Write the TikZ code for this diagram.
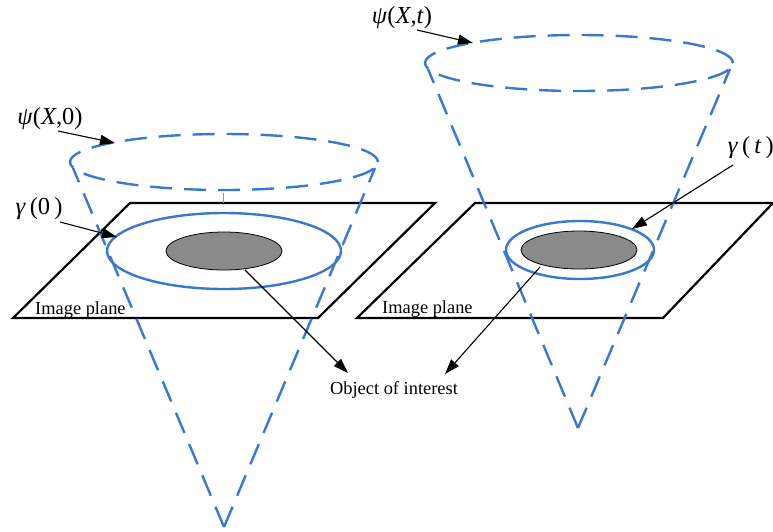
\documentclass[tikz,border=0pt]{standalone}
\usepackage{fontspec}
\setmainfont{Liberation Serif}
\usetikzlibrary{arrows.meta,shapes.geometric}
\definecolor{cblue}{RGB}{56,120,208}
\definecolor{objgray}{RGB}{138,138,138}
\begin{document}
\begin{tikzpicture}[x=1pt,y=-1pt,
  plane/.style={draw=black,line width=2.2pt,line join=miter},
  conel/.style={draw=cblue,line width=2.4pt,dash pattern=on 22pt off 12pt},
  level/.style={ellipse,draw=cblue,line width=2.4pt,inner sep=0pt,outer sep=0pt},
  obj/.style={ellipse,draw=black,fill=objgray,line width=0.8pt,inner sep=0pt,
    minimum width=116pt,minimum height=38pt},
  ptr/.style={draw=black,line width=1.1pt,-{Triangle[length=15pt,width=10pt]}},
  lbl/.style={font=\fontsize{18.4}{22}\selectfont,inner sep=0pt},
  mlbl/.style={font=\fontsize{24.5}{28}\selectfont,inner sep=0pt}]
\useasboundingbox (0,0) rectangle (773,531);

% image planes
\draw[plane] (130,203) -- (435,203) -- (318,318) -- (13,318) -- cycle;
\draw[plane] (475,203) -- (773,203) -- (663,318) -- (357,318) -- cycle;

% level set curves on the planes
\node[level,minimum width=234pt,minimum height=76pt] (g0) at (224,251) {};
\node[level,minimum width=148pt,minimum height=58pt] (gt) at (580,250) {};

% objects of interest
\node[obj] (o1) at (224,251) {};
\node[obj] (o2) at (579,250) {};

% cones
\node[level,conel,minimum width=308pt,minimum height=56pt] (psi0) at (224,162) {};
\node[level,conel,minimum width=308pt,minimum height=56pt] (psit) at (579,63) {};
\coordinate (ap1) at (224,527);
\coordinate (ap2) at (578,428);
\coordinate (t1l) at (73,168);
\coordinate (t1r) at (375,168);
\coordinate (t2l) at (428,69);
\coordinate (t2r) at (730,69);
\draw[conel] (ap1) -- (t1l);
\draw[conel] (ap1) -- (t1r);
\draw[conel] (ap2) -- (t2l);
\draw[conel] (ap2) -- (t2r);
\draw[cblue!75,line width=1pt] (223,193) -- (223,203);

% labels
\node[lbl,anchor=base west] (ip1) at (35,314) {Image plane};
\node[lbl,anchor=base west] (ip2) at (382,313) {Image plane};
\node[lbl] (ooi) at (394,390) {Object of interest};
\node[mlbl] (lpsi0) at (50,119) {\textit{ψ}(\textit{X},0)};
\node[mlbl] (lpsit) at (402,18) {\textit{ψ}(\textit{X},\textit{t})};
\node[mlbl] (lg0) at (39,209) {\textit{γ}\,(0\,)};
\node[mlbl,anchor=east] (lgt) at (774,148) {\textit{γ}\,(\,\textit{t}\,)};

% pointer targets
\coordinate (e1) at (115,143);
\coordinate (e2) at (117,237);
\coordinate (e3) at (473,43);
\coordinate (e4) at (632,229);
\coordinate (s5) at (245,270);
\coordinate (e5) at (348,373);
\coordinate (s6) at (540,267);
\coordinate (e6) at (445,374);
\coordinate (s1) at (58,131);
\coordinate (s2) at (60,222);
\coordinate (s3) at (417,30);
\coordinate (s4) at (733,165);

\draw[ptr] (s1) -- (e1);
\draw[ptr] (s2) -- (e2);
\draw[ptr] (s3) -- (e3);
\draw[ptr] (s4) -- (e4);
\draw[ptr] (s5) -- (e5);
\draw[ptr] (s6) -- (e6);
\end{tikzpicture}
\end{document}
